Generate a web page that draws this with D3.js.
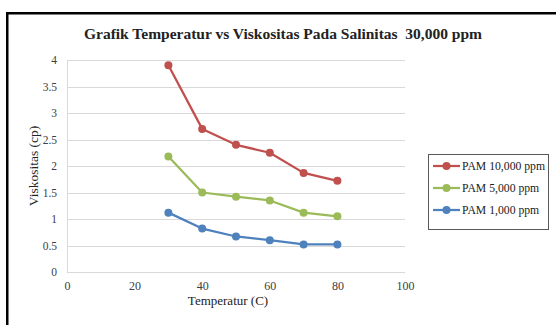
<!DOCTYPE html>
<html>
<head>
<meta charset="utf-8">
<script src="https://cdn.jsdelivr.net/npm/d3@7"></script>
<style>
  body { margin: 0; background: #fff; }
  svg { display: block; }
  svg text { font-family: "Liberation Serif", "Times New Roman", serif !important; }
</style>
</head>
<body>
<svg id="chart"></svg>
<script>
// data
const temps = [30, 40, 50, 60, 70, 80];
const pam10000 = [3.9, 2.7, 2.4, 2.25, 1.87, 1.72];
const pam5000 = [2.18, 1.5, 1.42, 1.35, 1.12, 1.05];
const pam1000 = [1.12, 0.82, 0.67, 0.6, 0.52, 0.52];
const seriesNames = ["PAM 10,000 ppm", "PAM 5,000 ppm", "PAM 1,000 ppm"];
const xTicks = [0, 20, 40, 60, 80, 100];
const yTicks = [0, 0.5, 1, 1.5, 2, 2.5, 3, 3.5, 4];

const colors = ["#C0504D", "#9BBB59", "#4F81BD"];
const series = [pam10000, pam5000, pam1000].map((vals, i) => ({
  name: seriesNames[i],
  color: colors[i],
  points: temps.map((t, j) => ({ x: t, y: vals[j] }))
}));

const svgWidth = 556, svgHeight = 325;
const margin = { top: 60, left: 67 };
const width = 338, height = 212;

const svg = d3.select("#chart")
  .attr("width", svgWidth)
  .attr("height", svgHeight);

// outer frame
svg.append("rect")
  .attr("x", 7.25).attr("y", 13.25)
  .attr("width", 600).attr("height", 400)
  .attr("fill", "none")
  .attr("stroke", "#000")
  .attr("stroke-width", 2.5);

svg.append("text")
  .attr("x", 283).attr("y", 39)
  .attr("text-anchor", "middle")
  .attr("font-size", 15.5)
  .attr("font-weight", "bold")
  .attr("fill", "#222")
  .attr("xml:space", "preserve")
  .text("Grafik Temperatur vs Viskositas Pada Salinitas  30,000 ppm");

const g = svg.append("g")
  .attr("transform", `translate(${margin.left},${margin.top})`);

const x = d3.scaleLinear().domain([0, 100]).range([0, width]);
const y = d3.scaleLinear().domain([0, 4]).range([height, 0]);

// gridlines
g.append("g")
  .selectAll("line")
  .data(yTicks.filter(d => d > 0))
  .join("line")
  .attr("x1", 0).attr("x2", width)
  .attr("y1", d => Math.round(y(d)) + 0.5)
  .attr("y2", d => Math.round(y(d)) + 0.5)
  .attr("stroke", "#D9D9D9");

const yAxis = g.append("g")
  .call(d3.axisLeft(y).tickValues(yTicks).tickSize(0).tickPadding(10).tickFormat(d3.format("")));
yAxis.select(".domain").attr("stroke", "#D9D9D9").attr("d", `M0.5,0V${height}`);
yAxis.selectAll("text").attr("font-size", 11.5).attr("fill", "#404040");

const xAxis = g.append("g")
  .attr("transform", `translate(0,${height})`)
  .call(d3.axisBottom(x).tickValues(xTicks).tickSize(0).tickPadding(9));
xAxis.select(".domain").attr("stroke", "#D9D9D9").attr("d", `M0,0.5H${width}`);
xAxis.selectAll("text").attr("font-size", 12).attr("fill", "#404040");

// axis titles
svg.append("text")
  .attr("x", 228).attr("y", 305)
  .attr("text-anchor", "middle")
  .attr("font-size", 13)
  .attr("fill", "#222")
  .text("Temperatur (C)");

svg.append("text")
  .attr("transform", "translate(37.5,166) rotate(-90)")
  .attr("text-anchor", "middle")
  .attr("font-size", 13.5)
  .attr("fill", "#222")
  .text("Viskositas (cp)");

const line = d3.line()
  .x(d => x(d.x))
  .y(d => y(d.y));

series.forEach(s => {
  g.append("path")
    .datum(s.points)
    .attr("fill", "none")
    .attr("stroke", s.color)
    .attr("stroke-width", 2.25)
    .attr("stroke-linejoin", "round")
    .attr("d", line);
  g.append("g")
    .selectAll("circle")
    .data(s.points)
    .join("circle")
    .attr("cx", d => x(d.x))
    .attr("cy", d => y(d.y))
    .attr("r", 4)
    .attr("fill", s.color);
});

// legend
const legend = svg.append("g").attr("transform", "translate(428,154)");
legend.append("rect")
  .attr("x", 0.5).attr("y", 0.5)
  .attr("width", 120).attr("height", 75)
  .attr("fill", "#fff")
  .attr("stroke", "#595959");

const items = legend.selectAll("g.item")
  .data(series)
  .join("g")
  .attr("class", "item")
  .attr("transform", (d, i) => `translate(0,${12 + i * 22})`);
items.append("line")
  .attr("x1", 5).attr("x2", 32)
  .attr("stroke", d => d.color)
  .attr("stroke-width", 2.25);
items.append("circle")
  .attr("cx", 18.5).attr("r", 4)
  .attr("fill", d => d.color);
items.append("text")
  .attr("x", 34).attr("y", 4)
  .attr("font-size", 11.7)
  .attr("fill", "#222")
  .text(d => d.name);
</script>
</body>
</html>
